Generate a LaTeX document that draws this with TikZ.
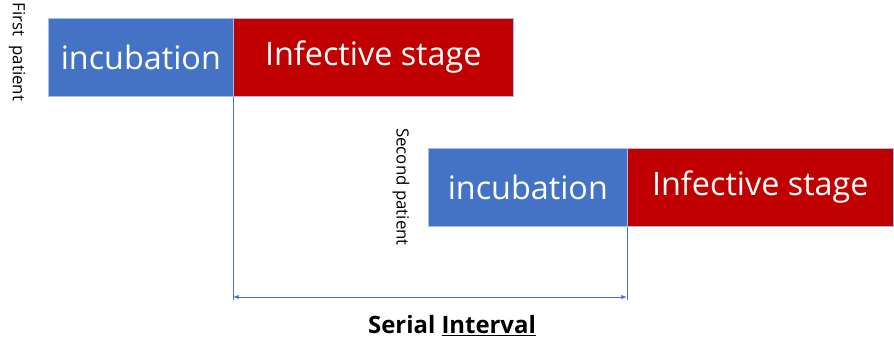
\documentclass[tikz,border=0pt]{standalone}
\usepackage{fontspec}
\setmainfont{Open Sans}
\usetikzlibrary{arrows.meta}
\definecolor{incblue}{HTML}{4472C4}
\definecolor{infred}{HTML}{C00000}
\definecolor{edgeblue}{HTML}{6F8FCF}

\begin{document}
\begin{tikzpicture}[x=0.025cm,y=-0.025cm,>={Latex[length=4pt,width=3pt]},
  stage/.style={draw=edgeblue!60,line width=0.4pt,anchor=north west,minimum height=1.95cm,
    inner sep=0pt,text=white,font=\fontsize{23}{27}\selectfont},
  incbox/.style={stage,fill=incblue},
  infbox/.style={stage,fill=infred},
  who/.style={rotate=-90,font=\fontsize{12}{14}\selectfont},
  guide/.style={draw=incblue,line width=0.6pt}]
\useasboundingbox (0,0) rectangle (894,341);
% first patient
\node[incbox,minimum width=4.625cm] (inc1) at (48,18) {incubation};
\node[infbox,minimum width=7cm] (inf1) at (233,18) {Infective stage};
\node[who] (p1) at (17,52) {First\ \ patient};
% second patient
\node[incbox,minimum width=4.975cm] (inc2) at (428,148) {incubation};
\node[infbox,minimum width=6.65cm] (inf2) at (627,148) {Infective stage};
\node[who] (p2) at (401,187) {Second patient};
% interval
\coordinate (l) at (233,297);
\coordinate (r) at (627,297);
\draw[guide] (inf1.south west) -- (233,300);
\draw[guide] (inf2.south west) -- (627,300);
\draw[guide,<->] (l) -- (r);
\node[font=\fontsize{17}{20}\selectfont\bfseries] (si) at (452,326) {Serial \underline{Interval}};
\end{tikzpicture}
\end{document}
